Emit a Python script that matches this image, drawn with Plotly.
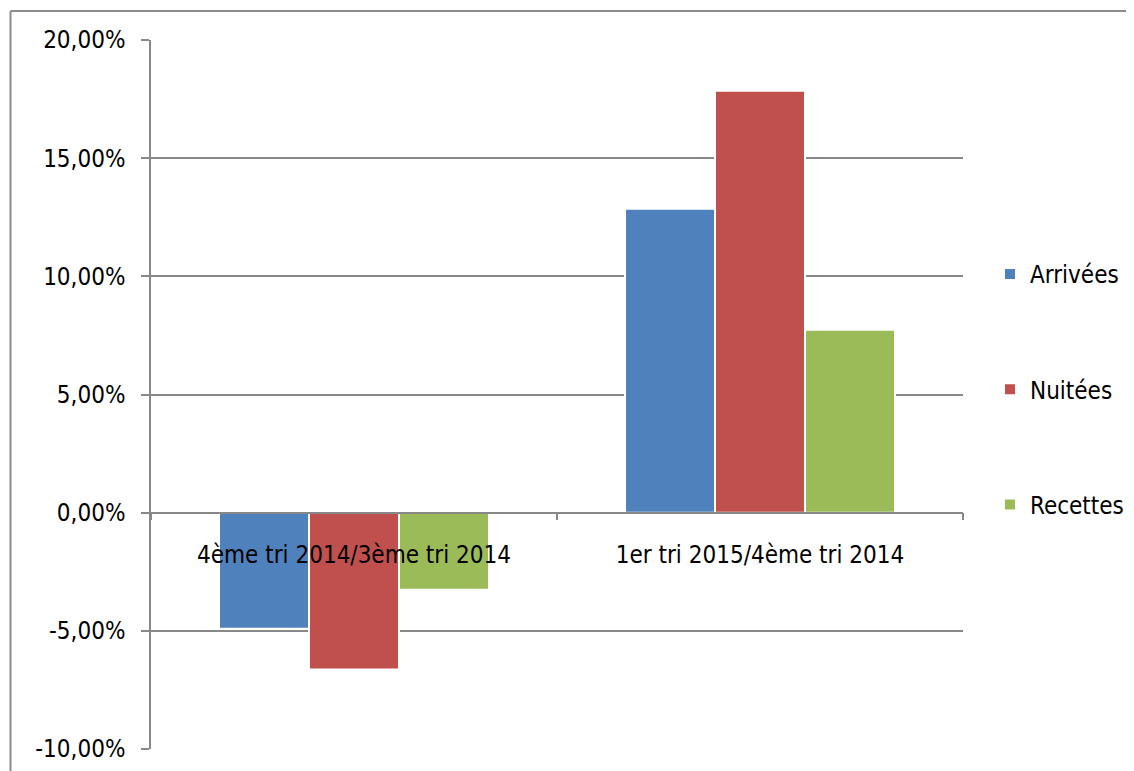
import plotly.graph_objects as go

categories = ["4ème tri 2014/3ème tri 2014", "1er tri 2015/4ème tri 2014"]
series_names = ["Arrivées", "Nuitées", "Recettes"]
arrivees = [-0.0491, 0.1286]
nuitees = [-0.0664, 0.1785]
recettes = [-0.0326, 0.0774]
colors = ["#4F81BD", "#C0504D", "#9BBB59"]

y_tickvals = [-0.10, -0.05, 0.0, 0.05, 0.10, 0.15, 0.20]
y_ticktext = ["-10,00%", "-5,00%", "0,00%", "5,00%", "10,00%", "15,00%", "20,00%"]

FONT = "DejaVu Sans Condensed, sans-serif"
GRID = "#888888"
FS = 24

fig = go.Figure()
for i, (name, vals) in enumerate(zip(series_names, [arrivees, nuitees, recettes])):
    fig.add_trace(go.Bar(
        x=categories, y=vals, name=name, legendgroup=name,
        marker=dict(color=colors[i], line=dict(color="white", width=2)),
    ))

OFF = 8  # page body margin offset
W, H = 1134 - OFF, 771 - OFF
L, T = 151 - OFF, 40 - OFF
R = 1134 - 963
B = 771 - 749
pw, ph = W - L - R, H - T - B

ymin, ymax = -0.10, 0.20
zero_pos = (0 - ymin) / (ymax - ymin)

def px_x(x):
    return (x - OFF - L) / pw

def px_y(y):
    return (H - B - (y - OFF)) / ph

fig.update_layout(
    width=W, height=H,
    margin=dict(l=L, r=R, t=T, b=B, autoexpand=False),
    paper_bgcolor="white", plot_bgcolor="white",
    barmode="group", bargap=0.335, bargroupgap=0,
    font=dict(family=FONT, size=FS, color="#000000"),
    showlegend=True,
    legend=dict(
        x=px_x(990), y=px_y(252), xanchor="left", yanchor="top",
        font=dict(family=FONT, size=FS, color="#000000"),
        tracegroupgap=81, bgcolor="rgba(0,0,0,0)",
    ),
    xaxis=dict(
        anchor="free", position=zero_pos,
        showline=True, linecolor=GRID, linewidth=1.5,
        ticks="outside", tickson="boundaries", ticklen=7, tickcolor=GRID, tickwidth=1.5,
        ticklabelstandoff=21, showgrid=False,
        tickfont=dict(family=FONT, size=FS),
    ),
    yaxis=dict(
        range=[ymin, ymax], tickvals=y_tickvals, ticktext=y_ticktext,
        showline=True, linecolor=GRID, linewidth=1.5,
        ticks="outside", ticklen=8, tickcolor=GRID, tickwidth=1.5,
        showgrid=True, gridcolor=GRID, gridwidth=1.5,
        zeroline=False, ticklabelstandoff=11,
        tickfont=dict(family=FONT, size=FS),
    ),
)

# outer chart frame (top and left edges visible)
x_left = px_x(10.5)
y_top = px_y(11)
y_bot = px_y(800)
fig.add_shape(type="line", xref="paper", yref="paper", x0=x_left, x1=px_x(1160),
              y0=y_top, y1=y_top, line=dict(color="#8c8c8c", width=2))
fig.add_shape(type="line", xref="paper", yref="paper", x0=x_left, x1=x_left,
              y0=y_top, y1=y_bot, line=dict(color="#8c8c8c", width=2))

fig.write_html("out.html")
